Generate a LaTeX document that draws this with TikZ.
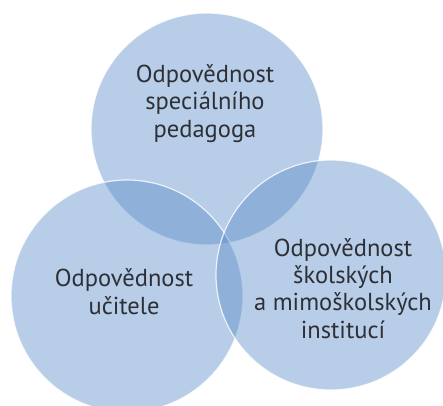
\documentclass[tikz,border=0pt]{standalone}
\usepackage{fontspec}
\setmainfont{PT Sans}
\definecolor{circfill}{RGB}{86,138,200}
\definecolor{txt}{RGB}{45,48,54}
\begin{document}
\begin{tikzpicture}[x=1pt,y=-1pt,
  venn/.style={circle, fill=circfill, fill opacity=0.42, draw=white, draw opacity=0.8, line width=1.2pt, inner sep=0pt},
  label/.style={text=txt, font=\fontsize{24.5}{27.3}\selectfont, align=center, inner sep=0pt}]
\useasboundingbox (0,0) rectangle (443,405);
\fill[white] (0,0) rectangle (443,405);
\node[venn, minimum size=232pt] (top) at (207,129) {};
\node[venn, minimum size=232pt] (left) at (127,296) {};
\node[venn, minimum size=230pt] (right) at (331,275) {};
\node[label, anchor=base] (ttop) at (205,137) {Odpovědnost\\speciálního\\pedagoga};
\node[label, anchor=base] (tleft) at (124,314) {Odpovědnost\\učitele};
\node[label, anchor=base] (tright) at (343,338) {Odpovědnost\\školských\\a mimoškolských\\institucí};
\end{tikzpicture}
\end{document}
